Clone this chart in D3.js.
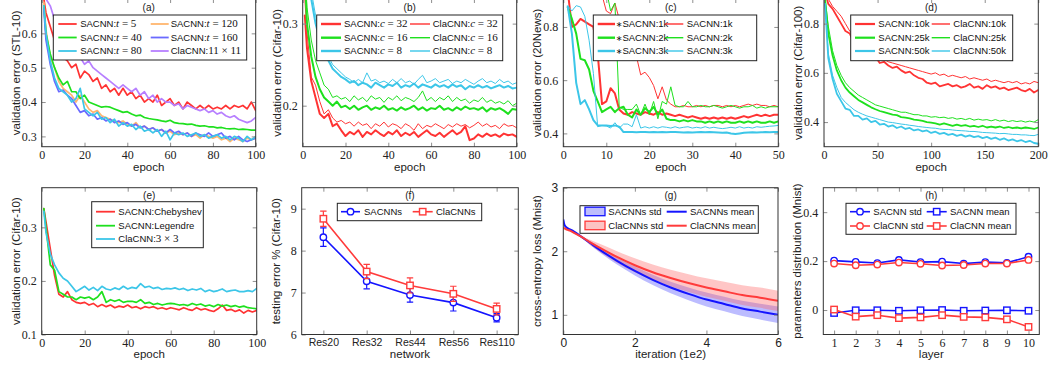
<!DOCTYPE html>
<html><head><meta charset="utf-8">
<script src="https://cdn.jsdelivr.net/npm/d3@7"></script>
<style>body{margin:0;background:#fff}svg{display:block}</style>
</head><body>
<svg id="chart" width="1049" height="368"></svg>
<script>
// ---------------- DATA ----------------
// (a) STL-10, epochs 0..100 step 2
const aT5   = [0.70,0.66,0.62,0.58,0.55,0.53,0.52,0.50,0.51,0.47,0.49,0.48,0.46,0.47,0.44,0.45,0.43,0.44,0.42,0.44,0.42,0.43,0.41,0.42,0.40,0.41,0.40,0.42,0.39,0.40,0.41,0.39,0.40,0.38,0.40,0.39,0.38,0.39,0.38,0.39,0.38,0.385,0.38,0.39,0.38,0.39,0.385,0.39,0.38,0.40,0.375];
const aT120 = [0.69,0.61,0.53,0.50,0.46,0.44,0.43,0.42,0.40,0.42,0.40,0.38,0.37,0.375,0.36,0.355,0.35,0.345,0.34,0.345,0.335,0.33,0.34,0.325,0.33,0.32,0.325,0.315,0.32,0.31,0.315,0.305,0.31,0.305,0.31,0.30,0.305,0.295,0.305,0.30,0.295,0.30,0.29,0.295,0.285,0.295,0.29,0.285,0.295,0.29,0.295];
const aT40  = [0.68,0.60,0.54,0.50,0.47,0.45,0.46,0.43,0.43,0.41,0.42,0.40,0.395,0.39,0.385,0.387,0.385,0.38,0.375,0.37,0.372,0.365,0.36,0.362,0.355,0.352,0.35,0.348,0.345,0.343,0.347,0.34,0.338,0.337,0.335,0.336,0.332,0.33,0.331,0.328,0.328,0.325,0.326,0.323,0.322,0.323,0.32,0.321,0.32,0.318,0.318];
const aT160 = [0.67,0.58,0.51,0.46,0.43,0.435,0.42,0.41,0.39,0.37,0.375,0.36,0.365,0.35,0.355,0.345,0.35,0.34,0.345,0.335,0.34,0.33,0.335,0.325,0.33,0.32,0.325,0.315,0.32,0.31,0.32,0.31,0.315,0.305,0.31,0.30,0.31,0.305,0.30,0.31,0.30,0.305,0.31,0.295,0.30,0.29,0.30,0.29,0.285,0.29,0.295];
const aT80  = [0.68,0.60,0.52,0.47,0.44,0.43,0.42,0.40,0.41,0.44,0.38,0.37,0.36,0.37,0.35,0.355,0.34,0.35,0.33,0.34,0.33,0.335,0.32,0.33,0.315,0.32,0.31,0.32,0.30,0.315,0.29,0.31,0.305,0.31,0.30,0.305,0.31,0.30,0.305,0.295,0.30,0.305,0.295,0.30,0.29,0.30,0.295,0.285,0.30,0.29,0.30];
const aCla  = [0.70,0.70,0.68,0.64,0.60,0.57,0.56,0.55,0.55,0.53,0.51,0.52,0.50,0.49,0.48,0.47,0.46,0.45,0.44,0.45,0.44,0.43,0.44,0.42,0.43,0.41,0.42,0.40,0.41,0.40,0.40,0.39,0.395,0.38,0.39,0.385,0.38,0.375,0.38,0.37,0.375,0.365,0.37,0.36,0.355,0.36,0.35,0.345,0.34,0.345,0.355];
// (b) Cifar-10, epochs 0..100 step 2
const bS32 = [0.31,0.27,0.23,0.21,0.19,0.185,0.19,0.175,0.178,0.17,0.163,0.168,0.165,0.17,0.162,0.168,0.165,0.17,0.166,0.163,0.168,0.165,0.17,0.163,0.167,0.164,0.168,0.162,0.166,0.17,0.165,0.163,0.167,0.162,0.166,0.17,0.165,0.168,0.175,0.158,0.16,0.165,0.162,0.166,0.163,0.165,0.162,0.166,0.164,0.165,0.162];
const bC32 = [0.33,0.29,0.235,0.225,0.205,0.19,0.195,0.185,0.18,0.182,0.178,0.18,0.175,0.18,0.176,0.178,0.172,0.178,0.175,0.18,0.174,0.178,0.176,0.172,0.178,0.175,0.17,0.178,0.172,0.176,0.174,0.178,0.175,0.172,0.177,0.174,0.178,0.175,0.177,0.173,0.176,0.18,0.175,0.178,0.174,0.176,0.172,0.178,0.175,0.176,0.173];
const bS16 = [0.36,0.30,0.26,0.235,0.22,0.21,0.205,0.2,0.205,0.198,0.2,0.196,0.2,0.195,0.198,0.2,0.195,0.198,0.196,0.2,0.195,0.197,0.194,0.198,0.195,0.197,0.2,0.195,0.198,0.194,0.197,0.196,0.2,0.195,0.197,0.194,0.198,0.195,0.199,0.196,0.197,0.195,0.198,0.193,0.197,0.195,0.197,0.194,0.19,0.196,0.195];
const bC16 = [0.37,0.32,0.28,0.255,0.24,0.225,0.22,0.21,0.212,0.208,0.21,0.205,0.212,0.207,0.21,0.205,0.212,0.208,0.21,0.204,0.21,0.207,0.212,0.206,0.21,0.208,0.205,0.21,0.218,0.206,0.21,0.205,0.21,0.207,0.212,0.205,0.21,0.206,0.208,0.203,0.207,0.205,0.21,0.204,0.207,0.203,0.205,0.202,0.206,0.2,0.203];
const bS8  = [0.40,0.36,0.33,0.30,0.28,0.26,0.255,0.245,0.24,0.235,0.232,0.228,0.23,0.225,0.228,0.226,0.222,0.228,0.225,0.222,0.226,0.224,0.228,0.222,0.225,0.223,0.227,0.222,0.226,0.224,0.222,0.226,0.223,0.225,0.222,0.226,0.223,0.225,0.22,0.224,0.222,0.225,0.222,0.224,0.221,0.223,0.225,0.222,0.224,0.221,0.222];
const bC8  = [0.41,0.37,0.34,0.31,0.29,0.27,0.26,0.25,0.245,0.24,0.235,0.232,0.228,0.232,0.228,0.24,0.23,0.232,0.228,0.23,0.227,0.232,0.228,0.233,0.228,0.23,0.226,0.232,0.237,0.228,0.23,0.233,0.228,0.23,0.232,0.227,0.23,0.228,0.232,0.229,0.226,0.23,0.233,0.228,0.23,0.227,0.232,0.228,0.23,0.226,0.228];
// (c) 20News, epochs 1..50
const cS1 = [0.94,0.80,0.81,0.83,0.82,0.81,0.80,0.70,0.51,0.52,0.57,0.55,0.49,0.475,0.47,0.48,0.475,0.47,0.48,0.475,0.47,0.48,0.47,0.475,0.47,0.465,0.47,0.465,0.46,0.465,0.46,0.455,0.46,0.455,0.46,0.455,0.46,0.455,0.46,0.455,0.46,0.465,0.46,0.465,0.47,0.465,0.47,0.465,0.47,0.47];
const cP1 = [0.95,0.95,0.95,0.95,0.95,0.95,0.95,0.94,0.92,0.86,0.85,0.89,0.83,0.76,0.74,0.71,0.69,0.62,0.63,0.61,0.58,0.53,0.575,0.525,0.51,0.50,0.50,0.505,0.50,0.50,0.505,0.50,0.505,0.50,0.505,0.505,0.50,0.505,0.50,0.505,0.50,0.505,0.51,0.505,0.51,0.505,0.505,0.50,0.505,0.50];
const cS2 = [0.875,0.83,0.775,0.68,0.675,0.64,0.56,0.52,0.48,0.49,0.50,0.48,0.495,0.50,0.47,0.46,0.49,0.47,0.495,0.48,0.50,0.47,0.49,0.455,0.45,0.45,0.445,0.45,0.445,0.45,0.445,0.445,0.44,0.445,0.44,0.445,0.44,0.445,0.44,0.44,0.445,0.44,0.445,0.44,0.445,0.44,0.44,0.445,0.44,0.445];
const cP2 = [0.95,0.95,0.96,0.95,0.95,0.95,0.95,0.95,0.95,0.94,0.86,0.89,0.50,0.49,0.49,0.49,0.51,0.47,0.51,0.47,0.52,0.455,0.52,0.51,0.575,0.505,0.50,0.50,0.52,0.50,0.50,0.505,0.50,0.50,0.505,0.50,0.495,0.50,0.505,0.50,0.495,0.50,0.50,0.505,0.495,0.50,0.495,0.50,0.50,0.50];
const cS3 = [0.88,0.775,0.59,0.51,0.525,0.49,0.45,0.43,0.43,0.43,0.428,0.43,0.425,0.405,0.405,0.405,0.404,0.405,0.405,0.404,0.405,0.404,0.405,0.404,0.405,0.405,0.404,0.403,0.404,0.403,0.404,0.405,0.404,0.405,0.404,0.403,0.402,0.403,0.40,0.398,0.40,0.402,0.403,0.404,0.403,0.404,0.405,0.404,0.405,0.405];
const cP3 = [0.88,0.86,0.88,0.875,0.84,0.75,0.625,0.425,0.43,0.428,0.42,0.44,0.42,0.435,0.435,0.425,0.47,0.42,0.425,0.42,0.425,0.42,0.425,0.423,0.42,0.425,0.42,0.423,0.425,0.42,0.423,0.42,0.425,0.42,0.423,0.42,0.418,0.42,0.423,0.42,0.425,0.42,0.423,0.42,0.425,0.423,0.425,0.427,0.428,0.43];
// (d) Cifar-100, epochs 0..200 step 4
const dS10 = [0.93,0.88,0.86,0.83,0.80,0.77,0.76,0.72,0.71,0.69,0.68,0.66,0.665,0.64,0.645,0.63,0.62,0.625,0.61,0.60,0.605,0.59,0.58,0.575,0.56,0.555,0.56,0.545,0.55,0.555,0.545,0.55,0.54,0.545,0.555,0.54,0.545,0.535,0.55,0.54,0.545,0.535,0.54,0.53,0.535,0.54,0.53,0.525,0.535,0.52,0.53];
const dC10 = [0.93,0.90,0.87,0.85,0.83,0.80,0.77,0.75,0.73,0.71,0.70,0.685,0.67,0.665,0.655,0.645,0.64,0.635,0.63,0.625,0.62,0.615,0.61,0.605,0.60,0.595,0.60,0.59,0.595,0.585,0.59,0.585,0.58,0.585,0.575,0.58,0.575,0.57,0.575,0.565,0.57,0.565,0.56,0.565,0.56,0.565,0.555,0.56,0.555,0.565,0.56];
const dS25 = [0.90,0.76,0.67,0.61,0.57,0.54,0.52,0.505,0.49,0.48,0.47,0.46,0.452,0.445,0.44,0.435,0.43,0.428,0.42,0.418,0.415,0.41,0.408,0.405,0.40,0.398,0.395,0.39,0.395,0.39,0.385,0.39,0.385,0.388,0.382,0.385,0.38,0.385,0.378,0.382,0.378,0.382,0.376,0.38,0.375,0.378,0.374,0.378,0.375,0.372,0.378];
const dC25 = [0.90,0.79,0.69,0.63,0.59,0.56,0.54,0.525,0.51,0.50,0.49,0.48,0.47,0.465,0.46,0.455,0.45,0.445,0.44,0.44,0.435,0.43,0.43,0.425,0.425,0.42,0.422,0.418,0.42,0.415,0.418,0.412,0.415,0.41,0.415,0.408,0.412,0.408,0.41,0.405,0.41,0.404,0.408,0.402,0.406,0.402,0.405,0.40,0.404,0.40,0.41];
const dS50 = [0.88,0.66,0.575,0.515,0.485,0.455,0.45,0.425,0.425,0.41,0.415,0.40,0.405,0.39,0.393,0.382,0.387,0.376,0.382,0.372,0.376,0.366,0.37,0.362,0.366,0.356,0.361,0.352,0.356,0.348,0.352,0.344,0.349,0.341,0.346,0.339,0.343,0.335,0.34,0.332,0.337,0.328,0.334,0.325,0.33,0.322,0.327,0.319,0.324,0.315,0.312];
const dC50 = [0.88,0.68,0.59,0.54,0.50,0.48,0.465,0.45,0.44,0.432,0.425,0.42,0.415,0.41,0.405,0.40,0.398,0.395,0.392,0.39,0.387,0.385,0.382,0.38,0.378,0.376,0.375,0.372,0.37,0.37,0.368,0.366,0.365,0.364,0.362,0.362,0.36,0.358,0.357,0.356,0.355,0.353,0.354,0.352,0.35,0.35,0.348,0.348,0.346,0.345,0.35];
// (e) Cifar-10 bases, epochs 0..100 step 2
const eCheb = [0.335,0.31,0.26,0.21,0.175,0.17,0.18,0.165,0.16,0.158,0.16,0.155,0.158,0.152,0.156,0.152,0.155,0.15,0.153,0.151,0.155,0.15,0.152,0.148,0.152,0.15,0.152,0.148,0.15,0.147,0.15,0.148,0.146,0.15,0.147,0.145,0.15,0.146,0.148,0.145,0.143,0.148,0.155,0.145,0.147,0.143,0.146,0.14,0.145,0.142,0.145];
const eLeg  = [0.335,0.30,0.23,0.22,0.18,0.175,0.17,0.17,0.165,0.17,0.168,0.17,0.165,0.17,0.18,0.16,0.165,0.162,0.165,0.16,0.162,0.162,0.16,0.165,0.158,0.16,0.156,0.158,0.155,0.157,0.158,0.157,0.155,0.156,0.154,0.158,0.155,0.157,0.153,0.155,0.152,0.156,0.153,0.155,0.152,0.154,0.151,0.153,0.15,0.149,0.148];
const eCla  = [0.33,0.29,0.25,0.23,0.215,0.205,0.2,0.19,0.18,0.185,0.19,0.183,0.188,0.182,0.19,0.185,0.183,0.187,0.184,0.19,0.185,0.188,0.186,0.195,0.188,0.19,0.186,0.188,0.184,0.186,0.185,0.187,0.184,0.186,0.182,0.185,0.183,0.186,0.18,0.183,0.18,0.182,0.185,0.18,0.182,0.183,0.18,0.18,0.182,0.18,0.186];
// (f) testing error %
const fNets = ["Res20","Res32","Res44","Res56","Res110"];
const fSac = [8.32,7.27,6.94,6.76,6.40];
const fSacErr = [0.22,0.18,0.17,0.20,0.10];
const fCla = [8.76,7.50,7.17,6.97,6.61];
const fClaErr = [0.18,0.17,0.18,0.18,0.14];
// (g) cross-entropy loss
const gIter = [0,0.03,0.1,0.2,0.3,0.5,0.75,1,1.5,2,2.5,3,3.5,4,4.5,5,5.5,6];
const gSacMean = [2.5,2.42,2.37,2.34,2.31,2.23,2.13,2.03,1.85,1.69,1.55,1.43,1.33,1.24,1.17,1.10,1.05,1.00];
const gSacStd  = [0.03,0.02,0.01,0.01,0.01,0.01,0.03,0.04,0.06,0.07,0.08,0.09,0.10,0.11,0.115,0.12,0.125,0.13];
const gClaMean = [2.36,2.36,2.34,2.32,2.29,2.23,2.14,2.06,1.91,1.78,1.67,1.58,1.50,1.43,1.37,1.31,1.27,1.22];
const gClaStd  = [0.02,0.02,0.01,0.01,0.01,0.01,0.04,0.06,0.09,0.11,0.12,0.13,0.14,0.145,0.15,0.155,0.16,0.16];
// (h) parameter distribution
const hLayers = [1,2,3,4,5,6,7,8,9,10];
const hSacStd  = [0.202,0.197,0.192,0.205,0.196,0.198,0.19,0.196,0.193,0.218];
const hSacMean = [-0.012,-0.001,-0.001,-0.003,-0.001,0.0,-0.003,-0.002,-0.001,-0.003];
const hClaStd  = [0.19,0.183,0.186,0.194,0.189,0.182,0.184,0.19,0.19,0.205];
const hClaMean = [0.002,-0.027,-0.021,-0.033,-0.030,-0.021,-0.028,-0.030,-0.038,-0.069];
// legend labels
const aLabels = [[["SACNN:","sf"],["t","mi"],[" = 5","rm"]],[["SACNN:","sf"],["t","mi"],[" = 120","rm"]],[["SACNN:","sf"],["t","mi"],[" = 40","rm"]],[["SACNN:","sf"],["t","mi"],[" = 160","rm"]],[["SACNN:","sf"],["t","mi"],[" = 80","rm"]],[["ClaCNN:","sf"],["11 × 11","rm"]]];
const bLabels = [[["SACNN:","sf"],["c","mi"],[" = 32","rm"]],[["ClaCNN:","sf"],["c","mi"],[" = 32","rm"]],[["SACNN:","sf"],["c","mi"],[" = 16","rm"]],[["ClaCNN:","sf"],["c","mi"],[" = 16","rm"]],[["SACNN:","sf"],["c","mi"],[" = 8","rm"]],[["ClaCNN:","sf"],["c","mi"],[" = 8","rm"]]];
const cLabels = [[["∗","ast"],["SACNN:1k","sf"]],[["SACNN:1k","sf"]],[["∗","ast"],["SACNN:2k","sf"]],[["SACNN:2k","sf"]],[["∗","ast"],["SACNN:3k","sf"]],[["SACNN:3k","sf"]]];
const dLabels = [[["SACNN:10k","sf"]],[["ClaCNN:10k","sf"]],[["SACNN:25k","sf"]],[["ClaCNN:25k","sf"]],[["SACNN:50k","sf"]],[["ClaCNN:50k","sf"]]];
const eLabels = [[["SACNN:Chebyshev","sf"]],[["SACNN:Legendre","sf"]],[["ClaCNN:","sf"],["3 × 3","rm"]]];
const fLabels = [[["SACNNs","sf"]],[["ClaCNNs","sf"]]];
const gLabels = [[["SACNNs std","sf"]],[["SACNNs mean","sf"]],[["ClaCNNs std","sf"]],[["ClaCNNs mean","sf"]]];
const hLabels = [[["SACNN std","sf"]],[["SACNN mean","sf"]],[["ClaCNN std","sf"]],[["ClaCNN mean","sf"]]];

// ---------------- STYLE / HELPERS ----------------
const SANS = "'Liberation Sans',Arial,Helvetica,sans-serif";
const SERIF = "'Liberation Serif','Times New Roman',serif";
const COL = {red:"#ff3333", green:"#1ee01e", cyan:"#3cc6e8", orange:"#ffb66e", blue:"#6a6aff", violet:"#b77fff", pblue:"#1414ff", pred:"#ff3b3b"};
const svg = d3.select("#chart");
let nclip = 0;

function makePanel(o){
  const g = svg.append("g").attr("transform",`translate(${o.left},${o.top})`);
  const w=o.w, h=o.h;
  const x = o.cats ? d3.scalePoint().domain(o.cats).range([0,w]).padding(0.5)
                   : d3.scaleLinear().domain(o.xd).range([0,w]);
  const y = d3.scaleLinear().domain(o.yd).range([h,0]);
  const cid = "clip"+(nclip++);
  g.append("clipPath").attr("id",cid).append("rect").attr("width",w).attr("height",h);
  const plot = g.append("g").attr("clip-path",`url(#${cid})`);
  const xtf = o.xtf||SERIF, ytf = o.ytf||SERIF;
  const axB = d3.axisBottom(x).tickSizeInner(-4).tickSizeOuter(0).tickPadding(4);
  const axT = d3.axisTop(x).tickSizeInner(-4).tickSizeOuter(0).tickFormat("");
  if(!o.cats){ axB.tickValues(o.xt).tickFormat(o.xf||d3.format("d")); axT.tickValues(o.xt); }
  const axL = d3.axisLeft(y).tickValues(o.yt).tickSizeInner(-4).tickSizeOuter(0).tickPadding(5).tickFormat(o.yf);
  const axR = d3.axisRight(y).tickValues(o.yt).tickSizeInner(-4).tickSizeOuter(0).tickFormat("");
  const style = (sel,font,size)=>{
    sel.select(".domain").remove();
    sel.selectAll(".tick line").attr("stroke","#8f8f8f");
    sel.selectAll("text").attr("font-family",font).attr("font-size",size).attr("fill","#222");
  };
  style(g.append("g").attr("transform",`translate(0,${h})`).call(axB), xtf, o.xfs||12);
  style(g.append("g").call(axT), xtf, 12);
  style(g.append("g").call(axL), ytf, o.yfs||12);
  style(g.append("g").attr("transform",`translate(${w},0)`).call(axR), ytf, 12);
  g.append("rect").attr("width",w).attr("height",h).attr("fill","none").attr("stroke","#333").attr("stroke-width",1);
  g.append("text").attr("x",w/2).attr("y",h+24).attr("text-anchor","middle")
    .attr("font-family",SANS).attr("font-size",11.5).attr("fill","#222").text(o.xl);
  g.append("text").attr("transform",`translate(-26,${h/2}) rotate(-90)`).attr("text-anchor","middle").attr("dy","0.35em")
    .attr("font-family",SANS).attr("font-size",11.5).attr("fill","#222").text(o.yl);
  g.append("text").attr("x",w/2).attr("y",o.titleY||12).attr("text-anchor","middle")
    .attr("font-family",SANS).attr("font-size",10).attr("fill","#222").text(o.title);
  const leg = g.append("g");
  return {g,x,y,plot,leg,w,h};
}

function series(P, vals, step, color, sw, first){
  const pts = vals.map((v,i)=>[i===0 && first!==undefined ? first : i*step, v]);
  P.plot.append("path").datum(pts).attr("fill","none").attr("stroke",color).attr("stroke-width",sw)
    .attr("stroke-linejoin","round").attr("stroke-linecap","round")
    .attr("d", d3.line().x(d=>P.x(d[0])).y(d=>P.y(d[1])));
}
function seriesX(P, xs, vals, color, sw){
  P.plot.append("path").datum(vals.map((v,i)=>[xs[i],v])).attr("fill","none").attr("stroke",color).attr("stroke-width",sw)
    .attr("stroke-linejoin","round").attr("d", d3.line().x(d=>P.x(d[0])).y(d=>P.y(d[1])));
}
function rich(sel, parts){
  parts.forEach(([t,f])=>{
    const ts = sel.append("tspan").text(t);
    if(f==="mi") ts.attr("font-family",SERIF).attr("font-style","italic").attr("font-size",11);
    else if(f==="rm") ts.attr("font-family",SERIF).attr("font-size",11);
    else if(f==="ast") ts.attr("font-family","'DejaVu Sans',sans-serif").attr("font-size",8).attr("font-weight","normal");
  });
}
function marker(g, kind, cx, cy, color){
  if(kind==="circle") g.append("circle").attr("cx",cx).attr("cy",cy).attr("r",3.2).attr("fill","#fff").attr("stroke",color).attr("stroke-width",1.4);
  else if(kind==="square") g.append("rect").attr("x",cx-3.2).attr("y",cy-3.2).attr("width",6.4).attr("height",6.4).attr("fill","#fff").attr("stroke",color).attr("stroke-width",1.4);
}
// legend: box [x,y,w,h], cols [[x0,x1,tx],...], rows [y...], items {label,color,sw,kind,marker,fill}
function legend(P, box, cols, rows, items){
  P.leg.append("rect").attr("x",box[0]).attr("y",box[1]).attr("width",box[2]).attr("height",box[3])
    .attr("fill","#fff").attr("stroke","#222").attr("stroke-width",1);
  items.forEach((it,i)=>{
    const c = cols[i % cols.length], ry = rows[Math.floor(i / cols.length)];
    if(it.kind==="patch"){
      P.leg.append("rect").attr("x",c[0]).attr("y",ry-4.5).attr("width",c[1]-c[0]).attr("height",8.5)
        .attr("fill",it.fill).attr("stroke",it.color).attr("stroke-width",1.3);
    } else {
      P.leg.append("line").attr("x1",c[0]).attr("x2",c[1]).attr("y1",ry).attr("y2",ry)
        .attr("stroke",it.color).attr("stroke-width",it.sw);
      if(it.marker) marker(P.leg, it.marker, (c[0]+c[1])/2, ry, it.color);
    }
    const t = P.leg.append("text").attr("x",c[2]).attr("y",ry+3.4).attr("font-family",SANS).attr("font-size",9.5).attr("fill","#111");
    rich(t, it.label);
  });
}
const f1 = d3.format(".1f");

// ---------------- (a) ----------------
{
  const P = makePanel({left:41.7, top:-1, w:214, h:147.7, xd:[0,100], yd:[0.27,0.70], xt:[0,20,40,60,80,100], yt:[0.3,0.4,0.5,0.6], yf:f1,
    xl:"epoch", yl:"validation error (STL-10)", title:"(a)"});
  const S = [[aT5,COL.red],[aT120,COL.orange],[aT40,COL.green],[aT160,COL.blue],[aT80,COL.cyan],[aCla,COL.violet]];
  S.forEach(([v,c])=>series(P, v, 2, c, 1.7, 1));
  legend(P,[11.6,16,193.4,45],[[16.6,35,38.5],[109,127,129]],[25,38.5,52],
    S.map(([v,c],i)=>({label:aLabels[i], color:c, sw:1.8})));
}
// ---------------- (b) ----------------
{
  const P = makePanel({left:302.7, top:-1, w:214, h:147.7, xd:[0,100], yd:[0.15,0.33], xt:[0,20,40,60,80,100], yt:[0.2,0.3], yf:f1,
    xl:"epoch", yl:"validation error (Cifar-10)", title:"(b)"});
  const S = [[bS32,COL.red,2],[bC32,COL.red,1],[bS16,COL.green,2],[bC16,COL.green,1],[bS8,COL.cyan,2],[bC8,COL.cyan,1]];
  S.forEach(([v,c,s])=>series(P, v, 2, c, s, 1));
  legend(P,[14,16,186,45.7],[[18.3,38.3,41.3],[107.3,127.3,130]],[25,38.7,52],
    S.map(([v,c,s],i)=>({label:bLabels[i], color:c, sw:s+0.4})));
}
// ---------------- (c) ----------------
{
  const P = makePanel({left:563.3, top:-1, w:215, h:147.7, xd:[0,50], yd:[0.35,0.905], xt:[0,10,20,30,40,50], yt:[0.4,0.6,0.8], yf:f1,
    xl:"epoch", yl:"validation error (20News)", title:"(c)"});
  const S = [[cS1,COL.red,2],[cP1,COL.red,1],[cS2,COL.green,2],[cP2,COL.green,1],[cS3,COL.cyan,2],[cP3,COL.cyan,1]];
  S.forEach(([v,c,s])=>P.plot.append("path").datum(v.map((d,i)=>[i+1,d])).attr("fill","none").attr("stroke",c).attr("stroke-width",s)
     .attr("stroke-linejoin","round").attr("d",d3.line().x(d=>P.x(d[0])).y(d=>P.y(d[1]))));
  legend(P,[30,16,163.4,45.7],[[34.4,51.7,52.4],[101.7,120,123.4]],[25,38.7,52],
    S.map(([v,c,s],i)=>({label:cLabels[i], color:c, sw:s+0.4})));
}
// ---------------- (d) ----------------
{
  const P = makePanel({left:824, top:-1, w:214.3, h:147.7, xd:[0,200], yd:[0.30,0.90], xt:[0,50,100,150,200], yt:[0.4,0.6,0.8], yf:f1,
    xl:"epoch", yl:"validation error (Cifar-100)", title:"(d)"});
  const S = [[dS10,COL.red,1.8],[dC10,COL.red,1],[dS25,COL.green,1.8],[dC25,COL.green,1],[dS50,COL.cyan,1.8],[dC50,COL.cyan,1]];
  S.forEach(([v,c,s])=>series(P, v, 4, c, s, 1));
  legend(P,[26.7,16,162,45.7],[[31,51,54.3],[107.7,126,129.3]],[25,38.7,52],
    S.map(([v,c,s],i)=>({label:dLabels[i], color:c, sw:s+0.4})));
}
// ---------------- (e) ----------------
{
  const P = makePanel({left:41.7, top:187.7, w:215, h:146.8, xd:[0,100], yd:[0.1,0.374], xt:[0,20,40,60,80,100], yt:[0.1,0.2,0.3], yf:f1,
    xl:"epoch", yl:"validation error (Cifar-10)", title:"(e)", titleY:11.5});
  const S = [[eCheb,COL.red],[eLeg,COL.green],[eCla,COL.cyan]];
  S.forEach(([v,c])=>series(P, v, 2, c, 1.7, 1));
  legend(P,[50,14,111.6,46],[[54.3,73.3,76.6]],[24,38,51.3], S.map(([v,c],i)=>({label:eLabels[i], color:c, sw:1.8})));
}
// ---------------- (f) ----------------
{
  const P = makePanel({left:301.7, top:187.7, w:216.6, h:146.8, cats:fNets, yd:[6,9.5], yt:[6,7,8,9], yf:d3.format("d"),
    xtf:SANS, xfs:10.5, xl:"network", yl:"testing error % (Cifar-10)", title:"(f)", titleY:11.5});
  const draw = (vals, errs, color, mk)=>{
    const pts = vals.map((v,i)=>[fNets[i],v,errs[i]]);
    P.plot.append("path").datum(pts).attr("fill","none").attr("stroke",color).attr("stroke-width",1.6)
      .attr("d",d3.line().x(d=>P.x(d[0])).y(d=>P.y(d[1])));
    pts.forEach(d=>{
      const cx=P.x(d[0]);
      P.plot.append("line").attr("x1",cx).attr("x2",cx).attr("y1",P.y(d[1]-d[2])).attr("y2",P.y(d[1]+d[2])).attr("stroke",color).attr("stroke-width",1.2);
      [d[1]-d[2], d[1]+d[2]].forEach(e=>P.plot.append("line").attr("x1",cx-3.2).attr("x2",cx+3.2).attr("y1",P.y(e)).attr("y2",P.y(e)).attr("stroke",color).attr("stroke-width",1.2));
      marker(P.plot, mk, cx, P.y(d[1]), color);
    });
  };
  draw(fSac, fSacErr, COL.pblue, "circle");
  draw(fCla, fClaErr, COL.pred, "square");
  legend(P,[35.6,15.6,144.4,17.4],[[39.3,58.3,62.3],[111,131,134.3]],[24],
    [{label:fLabels[0],color:COL.pblue,sw:1.6,marker:"circle"},{label:fLabels[1],color:COL.pred,sw:1.6,marker:"square"}]);
}
// ---------------- (g) ----------------
{
  const P = makePanel({left:563.3, top:187.7, w:214.7, h:146.8, xd:[0,6], yd:[0.69,3], xt:[0,2,4,6], yt:[1,2,3], yf:d3.format("d"),
    xtf:SANS, ytf:SANS, xfs:12, yfs:12, xl:"iteration (1e2)", yl:"cross-entropy loss (Mnist)", title:"(g)", titleY:11.5});
  const band = (m,s,fill,op)=>P.plot.append("path").datum(gIter.map((t,i)=>[t,m[i],s[i]])).attr("fill",fill).attr("fill-opacity",op).attr("stroke","none")
     .attr("d",d3.area().curve(d3.curveMonotoneX).x(d=>P.x(d[0])).y0(d=>P.y(d[1]-d[2])).y1(d=>P.y(d[1]+d[2])));
  band(gSacMean,gSacStd,"#6b6bff",0.45);
  band(gClaMean,gClaStd,"#ff6060",0.36);
  const line = (m,c)=>P.plot.append("path").datum(gIter.map((t,i)=>[t,m[i]])).attr("fill","none").attr("stroke",c).attr("stroke-width",2)
     .attr("d",d3.line().curve(d3.curveMonotoneX).x(d=>P.x(d[0])).y(d=>P.y(d[1])));
  line(gSacMean, COL.pblue);
  line(gClaMean, COL.pred);
  legend(P,[16.7,18,178.3,27.6],[[21.7,41.7,45],[103.4,123.4,126.7]],[24,38],
    [{label:gLabels[0],kind:"patch",color:COL.pblue,fill:"#bdbdfc"},{label:gLabels[1],color:COL.pblue,sw:2},
     {label:gLabels[2],kind:"patch",color:COL.pred,fill:"#fcc3c3"},{label:gLabels[3],color:COL.pred,sw:2}]);
}
// ---------------- (h) ----------------
{
  const P = makePanel({left:823.3, top:187.7, w:216, h:146.8, xd:[0.5,10.5], yd:[-0.1,0.5], xt:hLayers, yt:[0,0.2,0.4],
    yf:d=>d===0?"0":f1(d), xl:"layer", yl:"parameters distribution (Mnist)", title:"(h)", titleY:11.5});
  const draw = (vals,color,mk)=>{
    seriesX(P, hLayers, vals, color, 1.6);
    vals.forEach((v,i)=>marker(P.plot, mk, P.x(hLayers[i]), P.y(v), color));
  };
  draw(hSacStd, COL.pblue, "circle");
  draw(hSacMean, COL.pblue, "square");
  draw(hClaStd, COL.pred, "circle");
  draw(hClaMean, COL.pred, "square");
  legend(P,[22.7,15.6,170,31],[[26.7,46.7,50],[103.4,123.4,126.7]],[24,38.3],
    [{label:hLabels[0],color:COL.pblue,sw:1.6,marker:"circle"},{label:hLabels[1],color:COL.pblue,sw:1.6,marker:"square"},
     {label:hLabels[2],color:COL.pred,sw:1.6,marker:"circle"},{label:hLabels[3],color:COL.pred,sw:1.6,marker:"square"}]);
}
</script>
</body></html>
